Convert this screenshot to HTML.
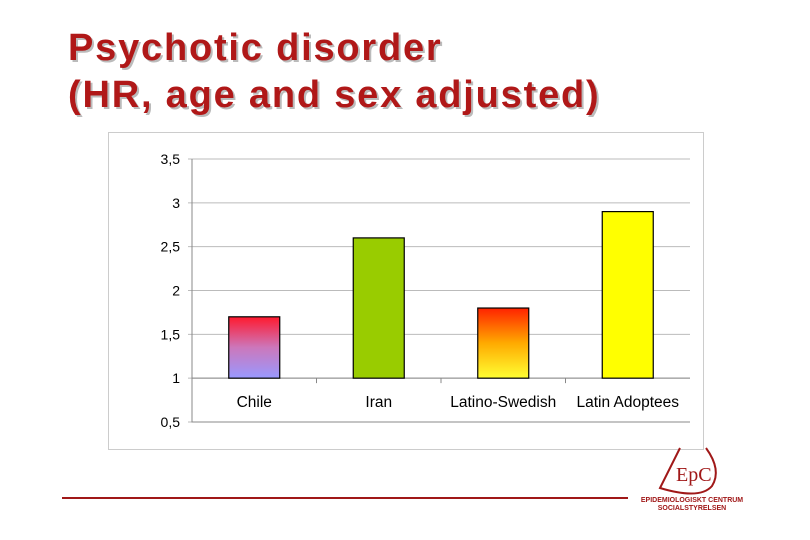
<!DOCTYPE html>
<html><head><meta charset="utf-8"><style>
body{margin:0;width:810px;height:540px;background:#fff;position:relative;overflow:hidden;font-family:"Liberation Sans",sans-serif}
.title{position:absolute;left:68px;top:25px;font-size:38px;letter-spacing:1.8px;font-weight:bold;color:#b01818;line-height:47px;text-shadow:2px 2px 0 #bbb;white-space:nowrap}
</style></head><body>
<div class="title">Psychotic disorder<br>(HR, age and sex adjusted)</div>
<svg width="810" height="540" style="position:absolute;left:0;top:0">
<defs>
<linearGradient id="g0" x1="0" y1="0" x2="0" y2="1"><stop offset="0" stop-color="#ff1a2e"/><stop offset="0.5" stop-color="#cc77bb"/><stop offset="1" stop-color="#9999ff"/></linearGradient>
<linearGradient id="g1" x1="0" y1="0" x2="0" y2="1"><stop offset="0" stop-color="#99cc00"/><stop offset="1" stop-color="#99cc00"/></linearGradient>
<linearGradient id="g2" x1="0" y1="0" x2="0" y2="1"><stop offset="0" stop-color="#ff2200"/><stop offset="0.5" stop-color="#ffaa00"/><stop offset="1" stop-color="#ffff33"/></linearGradient>
<linearGradient id="g3" x1="0" y1="0" x2="0" y2="1"><stop offset="0" stop-color="#ffff00"/><stop offset="1" stop-color="#ffff00"/></linearGradient>
</defs>
<rect x="108.5" y="132.5" width="595" height="317" fill="#fff" stroke="#ccc"/>
<g id="grid"></g><g id="bars"></g><g id="labels"></g>
<line x1="62" y1="498" x2="628" y2="498" stroke="#a01818" stroke-width="2"/>
<g>
<path d="M680 448 L660 488 Q700 500 712 486 Q722 470 706 448" fill="none" stroke="#a01818" stroke-width="2"/>
<text x="676" y="481" font-family="Liberation Serif,serif" font-size="20" fill="#a01818">EpC</text>
<text x="692" y="502" text-anchor="middle" font-size="7" font-weight="bold" fill="#a01818">EPIDEMIOLOGISKT CENTRUM</text>
<text x="692" y="510" text-anchor="middle" font-size="7" font-weight="bold" fill="#a01818">SOCIALSTYRELSEN</text>
</g>
</svg>
<script>
const categories=["Chile","Iran","Latino-Swedish","Latin Adoptees"];
const values=[1.7,2.6,1.8,2.9];
const ticks=[0.5,1,1.5,2,2.5,3,3.5];
const tickLabels=["0,5","1","1,5","2","2,5","3","3,5"];
const fills=["url(#g0)","url(#g1)","url(#g2)","url(#g3)"];
const X0=192,X1=690,Y0=422,Y1=159,vmin=0.5,vmax=3.5;
const y=v=>Y0-(v-vmin)/(vmax-vmin)*(Y0-Y1);
const bw=(X1-X0)/categories.length;
const NS="http://www.w3.org/2000/svg";
function mk(t,a,p){const e=document.createElementNS(NS,t);for(const k in a)e.setAttribute(k,a[k]);p.appendChild(e);return e;}
const grid=document.getElementById('grid'),bars=document.getElementById('bars'),lab=document.getElementById('labels');
ticks.forEach((t,i)=>{
 const l=mk('line',{x1:X0-4,x2:X1,y1:y(t),y2:y(t),stroke:'#bbb'},grid);
 
 
 const tx=mk('text',{x:X0-12,y:y(t)+5,'text-anchor':'end','font-size':14,fill:'#000'},lab);
 tx.textContent=tickLabels[i];
 
 
});
const ax=mk('path',{d:`M${X0} ${Y1}V${Y0}H${X1}`,fill:'none',stroke:'#888'},grid);


const cx=mk('line',{x1:X0,x2:X1,y1:y(1),y2:y(1),stroke:'#888'},grid);


for(let i=1;i<categories.length;i++){const tk=mk('line',{x1:X0+bw*i,x2:X0+bw*i,y1:y(1),y2:y(1)+5,stroke:'#888'},grid);
 
 }
categories.forEach((c,i)=>{
 const cxm=X0+bw*(i+0.5),w=51;
 const r=mk('rect',{x:cxm-w/2,y:y(values[i]),width:w,height:y(1)-y(values[i]),fill:fills[i],stroke:'#000','stroke-width':1.2},bars);
 
 
 const t=mk('text',{x:cxm,y:407,'text-anchor':'middle','font-size':15.5,fill:'#000'},lab);
 t.textContent=c;
 
 
});
</script>
</body></html>
